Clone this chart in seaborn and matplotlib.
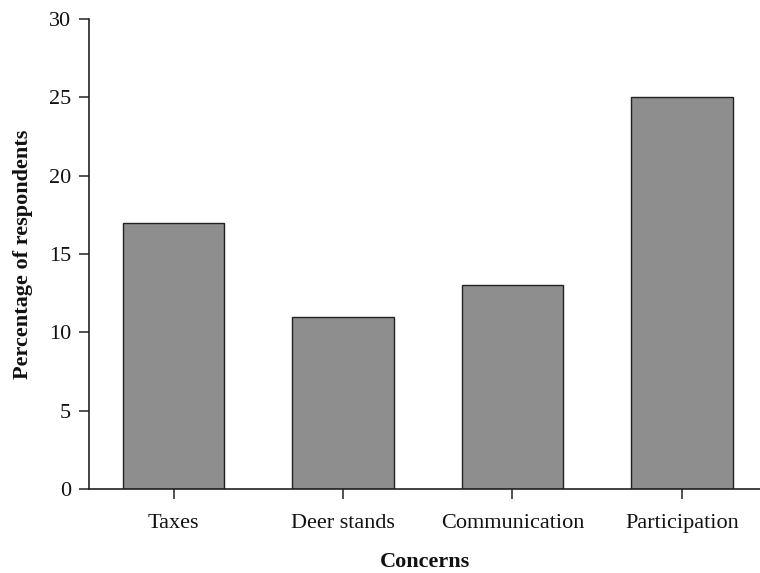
import matplotlib
matplotlib.use("Agg")
import matplotlib.pyplot as plt
import seaborn as sns
import pandas as pd

concerns = ["Taxes", "Deer stands", "Communication", "Participation"]
percentages = [17, 11, 13, 25]
y_ticks = [0, 5, 10, 15, 20, 25, 30]

sns.set_theme(style="ticks")
plt.rcParams["font.family"] = ["Liberation Serif", "DejaVu Serif"]

df = pd.DataFrame({"Concerns": concerns, "Percentage": percentages})

fig = plt.figure(figsize=(7.6, 5.73), dpi=100)
ax = fig.add_axes([0.117, 0.1466, 0.885, 0.8202])

sns.barplot(data=df, x="Concerns", y="Percentage", order=concerns,
            color="#8e8e8e", saturation=1, edgecolor="#222222",
            linewidth=1.0, width=0.6, ax=ax)

ax.set_xlim(-0.5, 3.47)
ax.set_ylim(0, 30)
ax.set_yticks(y_ticks)
ax.set_yticklabels([str(t) for t in y_ticks])

for side in ["top", "right"]:
    ax.spines[side].set_visible(False)
for side in ["left", "bottom"]:
    ax.spines[side].set_color("#222222")
    ax.spines[side].set_linewidth(1.2)

ax.tick_params(axis="both", direction="out", length=7, width=1.1,
               color="#222222", labelsize=16, labelcolor="#111111")
ax.tick_params(axis="x", pad=11)
ax.tick_params(axis="y", pad=6)

ax.set_ylabel("Percentage of respondents", fontsize=16, fontweight="bold",
              color="#111111", labelpad=11)
ax.set_xlabel("Concerns", fontsize=16, fontweight="bold",
              color="#111111", labelpad=14)

fig.savefig("out.png", dpi=100)
